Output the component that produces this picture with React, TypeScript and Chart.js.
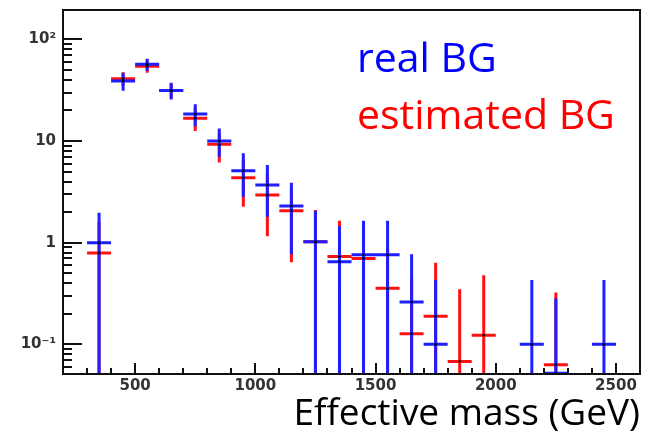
import React, { useEffect, useRef } from 'react';
import { Chart, registerables } from 'chart.js';

Chart.register(...registerables);

// ---- data ----
const binCenters = [350, 450, 550, 650, 750, 850, 950, 1050, 1150, 1250, 1350, 1450, 1550, 1650, 1750, 1850, 1950, 2050, 2150, 2250, 2350, 2450];
const binWidth = 100;

const realBG = [1.0, 39, 57, 31.5, 18.5, 10, 5.1, 3.7, 2.3, 1.02, 0.65, 0.76, 0.76, 0.26, 0.1, null, null, null, 0.1, 0.052, null, 0.1];
const realHi = [1.97, 47, 64.5, 37.4, 23.1, 13.3, 7.6, 5.8, 3.9, 2.05, 1.46, 1.64, 1.64, 0.77, 0.43, null, null, null, 0.43, 0.284, null, 0.43];
const realLo = [0, 31.2, 49, 25.7, 14.0, 7.0, 2.83, 1.8, 0.77, 0, 0, 0, 0, 0, 0, null, null, null, 0, 0, null, 0];

const estBG = [0.79, 41, 54.6, 31.5, 16.8, 9.3, 4.36, 2.94, 2.06, 1.02, 0.73, 0.7, 0.356, 0.127, 0.189, 0.0676, 0.123, null, null, 0.063, null, null];
const estHi = [1.6, 47.7, 62, 36.5, 21, 12, 6.5, 4.8, 3.4, 2.1, 1.64, 1.5, 0.9, 0.45, 0.636, 0.348, 0.478, null, null, 0.323, null, null];
const estLo = [0, 35, 47, 26.5, 12.6, 6.17, 2.26, 1.16, 0.64, 0, 0, 0, 0, 0, 0, 0, 0, null, null, 0, null, null];

const xTickValues = [500, 1000, 1500, 2000, 2500];
const xTickLabels = ['500', '1000', '1500', '2000', '2500'];
const yTickValues = [0.1, 1, 10, 100];
const yTickLabels = ['10\u207B\u00B9', '1', '10', '10\u00B2'];

const X_MIN = 200;
const X_MAX = 2600;
const Y_MIN = 0.051;
const Y_MAX = 195;

const BLUE = '#1e1eff';
const RED = '#ff1010';

type Pt = { x: number; y: number | null };

function buildSegments(values: (number | null)[], lo: (number | null)[], hi: (number | null)[]) {
  const h: Pt[] = [];
  const v: Pt[] = [];
  const c: Pt[] = [];
  binCenters.forEach((x, i) => {
    const y = values[i];
    if (y == null) return;
    h.push({ x: x - binWidth / 2, y }, { x: x + binWidth / 2, y }, { x, y: null });
    const l = lo[i] != null && (lo[i] as number) > 0 ? (lo[i] as number) : Y_MIN / 10;
    v.push({ x, y: l }, { x, y: hi[i] as number }, { x, y: null });
    c.push({ x, y });
  });
  return { h, v, c };
}

const axisDecor = {
  id: 'axisDecor',
  afterDraw(chart: any) {
    const { ctx, chartArea, scales } = chart;
    const { left, right, top, bottom } = chartArea;
    const x = scales.x;
    const y = scales.y;
    ctx.save();
    ctx.strokeStyle = '#111';
    ctx.lineWidth = 2;
    ctx.beginPath();
    for (let d = -2; d <= 2; d++) {
      for (let k = 1; k <= 9; k++) {
        const v = k * Math.pow(10, d);
        if (v < Y_MIN || v > Y_MAX) continue;
        const py = Math.round(y.getPixelForValue(v));
        const len = k === 1 ? 19 : 9;
        ctx.moveTo(left, py);
        ctx.lineTo(left + len, py);
      }
    }
    for (let v = 300; v <= 2500; v += 100) {
      const px = Math.round(x.getPixelForValue(v));
      const len = v % 500 === 0 ? 11 : 6;
      ctx.moveTo(px, bottom);
      ctx.lineTo(px, bottom - len);
    }
    ctx.stroke();
    ctx.strokeRect(left, top, right - left, bottom - top);
    ctx.restore();
  },
};

export default function App() {
  const canvasRef = useRef<HTMLCanvasElement | null>(null);

  useEffect(() => {
    document.body.style.margin = '0';
    const canvas = canvasRef.current;
    if (!canvas) return;
    const real = buildSegments(realBG, realLo, realHi);
    const est = buildSegments(estBG, estLo, estHi);

    const lineDs = (data: Pt[], color: string, order: number) => ({
      data,
      showLine: true,
      spanGaps: false,
      borderColor: color,
      borderWidth: 3,
      borderCapStyle: 'butt',
      pointRadius: 0,
      clip: 0,
      order,
    });

    const chart = new Chart(canvas, {
      type: 'scatter',
      data: {
        datasets: [
          lineDs(est.v, RED, 6),
          lineDs(est.h, RED, 5),
          lineDs(real.v, BLUE, 4),
          lineDs(real.h, BLUE, 3),
          { data: est.c, pointRadius: 1.3, backgroundColor: '#000', borderWidth: 0, order: 2, clip: 0 },
          { data: real.c, pointRadius: 1.3, backgroundColor: '#000', borderWidth: 0, order: 1, clip: 0 },
        ] as any,
      },
      options: {
        animation: false,
        responsive: false,
        events: [],
        layout: { padding: { top: 10, right: 14, left: 0, bottom: 0 } },
        plugins: { legend: { display: false }, tooltip: { enabled: false } },
        scales: {
          x: {
            type: 'linear',
            min: X_MIN,
            max: X_MAX,
            grid: { display: false, drawTicks: false },
            border: { display: false },
            afterFit: (s: any) => {
              s.height = 61;
              s.paddingLeft = 0;
              s.paddingRight = 0;
            },
            afterBuildTicks: (s: any) => {
              s.ticks = xTickValues.map((value) => ({ value }));
            },
            ticks: {
              autoSkip: false,
              maxRotation: 0,
              padding: 3,
              color: '#333',
              font: { family: '"DejaVu Sans"', size: 15, weight: 'bold' },
              callback: (_v: any, i: number) => xTickLabels[i],
            },
            title: {
              display: true,
              text: 'Effective mass (GeV)',
              align: 'end',
              color: '#000',
              padding: { top: 0, bottom: 2 },
              font: { family: '"Open Sans"', size: 37, lineHeight: 1 },
            },
          },
          y: {
            type: 'logarithmic',
            min: Y_MIN,
            max: Y_MAX,
            grid: { display: false, drawTicks: false },
            border: { display: false },
            afterFit: (s: any) => {
              s.width = 63;
              s.paddingTop = 0;
              s.paddingBottom = 0;
            },
            afterBuildTicks: (s: any) => {
              s.ticks = yTickValues.map((value) => ({ value }));
            },
            ticks: {
              autoSkip: false,
              padding: 7,
              color: '#333',
              font: { family: '"DejaVu Sans"', size: 15, weight: 'bold' },
              callback: (_v: any, i: number) => yTickLabels[i],
            },
          },
        },
      } as any,
      plugins: [axisDecor],
    });
    return () => chart.destroy();
  }, []);

  const legendStyle: React.CSSProperties = {
    position: 'absolute',
    left: 357,
    fontFamily: '"Open Sans"',
    fontSize: 41,
    lineHeight: '41px',
    whiteSpace: 'nowrap',
  };

  return (
    <div style={{ position: 'relative', width: 654, height: 435, background: '#fff' }}>
      <canvas ref={canvasRef} width={654} height={435} style={{ display: 'block' }} />
      <div style={{ ...legendStyle, top: 35.5, color: '#0000ff' }}>real BG</div>
      <div style={{ ...legendStyle, top: 93, color: '#ff0000' }}>estimated BG</div>
    </div>
  );
}
